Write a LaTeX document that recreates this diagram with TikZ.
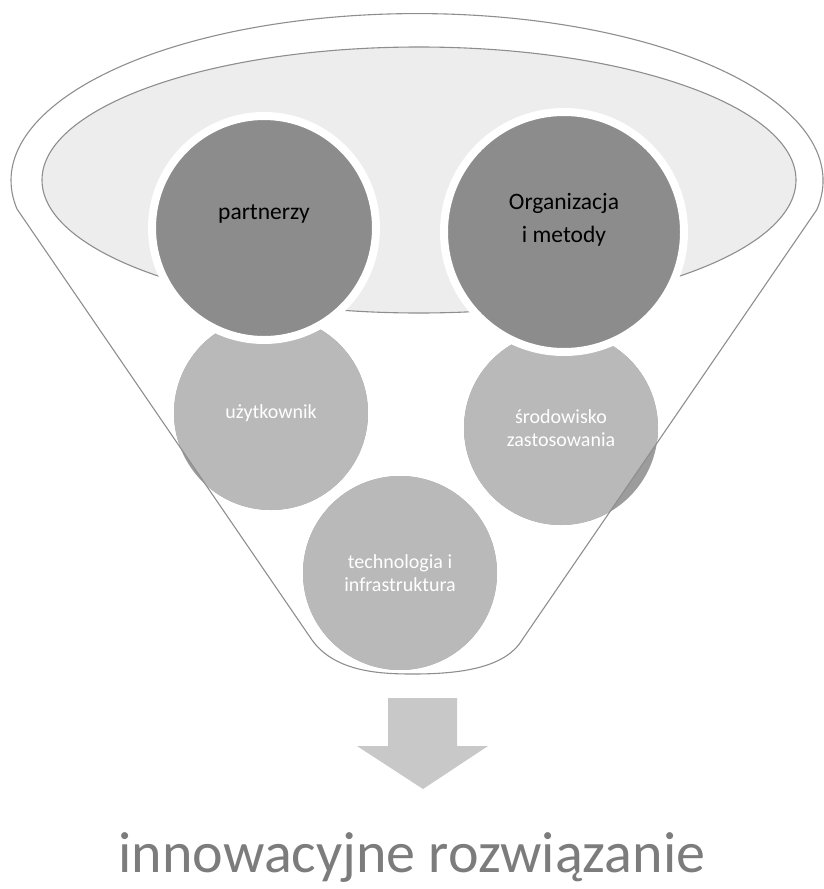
\documentclass[tikz,border=0pt]{standalone}
\usepackage{fontspec}
\setmainfont{Carlito}

\definecolor{rimgr}{HTML}{8E8E8E}
\definecolor{topgr}{HTML}{EDEDED}
\definecolor{darkgr}{HTML}{8C8C8C}
\definecolor{litegr}{HTML}{B9B9B9}
\definecolor{shadegr}{HTML}{9C9C9C}
\definecolor{arrowgr}{HTML}{C8C8C8}
\definecolor{textgr}{HTML}{7C7C7C}

\begin{document}
\begin{tikzpicture}[x=1pt,y=-1pt]

\tikzset{big/.style = {shape=circle,draw=white,line width=8pt,fill=darkgr,inner sep=0pt}}
\tikzset{bigtext/.style = {align=center,text=black,font=\fontsize{23.5}{33}\selectfont}}
\tikzset{small/.style = {shape=circle,fill=litegr,inner sep=0pt,minimum size=194pt,text=white,align=center,font=\fontsize{20}{23}\selectfont}}
\tikzset{rim/.style = {draw=rimgr,line width=1.1pt}}
\def\funnelpath{(17,209) arc[start angle=170.2,end angle=370,x radius=406,y radius=167] -- (522,640) .. controls (505,668) and (460,674) .. (413,674) .. controls (380,674) and (335,672) .. (312,640) -- cycle}

\useasboundingbox (0,0) rectangle (824,889);
%funnel top
\draw[rim,fill=topgr] (419,180) ellipse [x radius=377,y radius=133];
%lower circles, darker outside the funnel
\fill[shadegr] (271,413) circle [radius=97];
\fill[shadegr] (561,428) circle [radius=97];
\fill[shadegr] (400,573) circle [radius=97];
\begin{scope}
\clip \funnelpath;
\node[small] (user) at (271,413) {użytkownik};
\node[small] (env) at (561,428) {środowisko\\zastosowania};
\node[small] (tech) at (400,573) {technologia i\\infrastruktura};
\end{scope}
%funnel
\draw[rim] \funnelpath;
%upper circles
\node[big,minimum size=224pt] (partners) at (264,228) {};
\node[big,minimum size=240pt] (org) at (564,232) {};
\node[bigtext] (partnerslabel) at ([yshift=14pt]partners.center) {partnerzy};
\node[bigtext] (orglabel) at ([yshift=12pt]org.center) {Organizacja\\i metody};
%result
\fill[arrowgr] (388,698) -- (457,698) -- (457,746) -- (488,746) -- (423,789) -- (357,746) -- (388,746) -- cycle;
\node[anchor=base,text=textgr,font=\fontsize{58}{64}\selectfont] (result) at (412,872) {innowacyjne rozwiązanie};

\end{tikzpicture}
\end{document}
